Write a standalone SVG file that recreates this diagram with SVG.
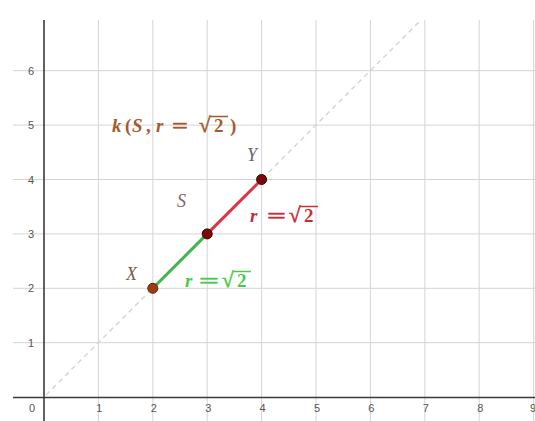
<svg xmlns="http://www.w3.org/2000/svg" width="535" height="421" viewBox="0 0 535 421">
<style>
.grid{stroke:#d4d4d4;stroke-width:1}
.axis{stroke:#3a3a3a;stroke-width:1.6}
.num{font-family:"Liberation Sans",Arial,sans-serif;font-size:11px;fill:#555;text-anchor:middle}
.math{font-family:"Liberation Serif","Times New Roman",serif;font-weight:bold;font-size:19px}
.it{font-style:italic}
.rad{font-size:21px;stroke-width:0.6}
.lbl{font-family:"Liberation Serif","Times New Roman",serif;font-style:italic;font-size:18px}
.pt{stroke-width:1}
</style>
<rect width="535" height="421" fill="#fff"/>
<g id="grid">
<line class="grid" x1="13" y1="342.7" x2="535" y2="342.7"/>
<line class="grid" x1="13" y1="288.3" x2="535" y2="288.3"/>
<line class="grid" x1="13" y1="233.9" x2="535" y2="233.9"/>
<line class="grid" x1="13" y1="179.5" x2="535" y2="179.5"/>
<line class="grid" x1="13" y1="125.1" x2="535" y2="125.1"/>
<line class="grid" x1="13" y1="70.7" x2="535" y2="70.7"/>
<line class="grid" x1="98.4" y1="20" x2="98.4" y2="421"/>
<line class="grid" x1="152.8" y1="20" x2="152.8" y2="421"/>
<line class="grid" x1="207.2" y1="20" x2="207.2" y2="421"/>
<line class="grid" x1="261.6" y1="20" x2="261.6" y2="421"/>
<line class="grid" x1="316" y1="20" x2="316" y2="421"/>
<line class="grid" x1="370.4" y1="20" x2="370.4" y2="421"/>
<line class="grid" x1="424.8" y1="20" x2="424.8" y2="421"/>
<line class="grid" x1="479.2" y1="20" x2="479.2" y2="421"/>
<line class="grid" x1="533.6" y1="20" x2="533.6" y2="421"/>
</g>
<g id="axes">
<line class="axis" x1="44" y1="20" x2="44" y2="421"/>
<line class="axis" x1="13" y1="397.5" x2="535" y2="397.5"/>
<text class="num" x="31" y="346.7">1</text>
<text class="num" x="31" y="292.3">2</text>
<text class="num" x="31" y="237.9">3</text>
<text class="num" x="31" y="183.5">4</text>
<text class="num" x="31" y="129.1">5</text>
<text class="num" x="31" y="74.7">6</text>
<text class="num" x="32" y="412">0</text>
<text class="num" x="99.4" y="412">1</text>
<text class="num" x="153.8" y="412">2</text>
<text class="num" x="208.2" y="412">3</text>
<text class="num" x="262.6" y="412">4</text>
<text class="num" x="317" y="412">5</text>
<text class="num" x="371.4" y="412">6</text>
<text class="num" x="425.8" y="412">7</text>
<text class="num" x="480.2" y="412">8</text>
<text class="num" x="533" y="412">9</text>
</g>
<g id="connectors">
<line x1="46" y1="395" x2="419" y2="22" stroke="#d6d6d6" stroke-width="1.5" stroke-dasharray="5,4"/>
<line x1="152.8" y1="288.3" x2="207.2" y2="233.9" stroke="#3cb84a" stroke-width="3"/>
<line x1="207.2" y1="233.9" x2="261.6" y2="179.5" stroke="#d23a48" stroke-width="3"/>
</g>
<g id="circle-label" fill="#a65a2c">
<text class="math" y="132"><tspan class="it" x="112">k</tspan><tspan x="125">(</tspan><tspan class="it" x="132">S</tspan><tspan x="146">,</tspan><tspan class="it" x="156">r</tspan></text>
<text class="math" x="172" y="132" textLength="16" lengthAdjust="spacingAndGlyphs" stroke="#a65a2c" stroke-width="0.5">=</text>
<text class="math" y="132"><tspan class="rad" x="199" stroke="#a65a2c">√</tspan><tspan x="214">2</tspan><tspan x="230">)</tspan></text>
<line x1="210" y1="116.5" x2="228" y2="116.5" stroke="#a65a2c" stroke-width="1.5"/>
</g>
<g id="node-X">
<circle class="pt" cx="152.8" cy="288.3" r="5" fill="#a03a10" stroke="#5a2008"/>
<text class="lbl" x="126" y="280" fill="#6e5e52">X</text>
</g>
<g id="node-S">
<circle class="pt" cx="207.2" cy="233.9" r="5" fill="#7a0a0a" stroke="#400000"/>
<text class="lbl" x="177" y="207" fill="#8a6262">S</text>
</g>
<g id="node-Y">
<circle class="pt" cx="261.6" cy="179.5" r="5" fill="#7a0a0a" stroke="#400000"/>
<text class="lbl" x="247" y="161" fill="#6a6280">Y</text>
</g>
<g id="label-red" fill="#c2303c">
<text class="math it" x="250" y="222">r</text>
<text class="math" x="267" y="222" textLength="19" lengthAdjust="spacingAndGlyphs" stroke="#c2303c" stroke-width="0.5">=</text>
<text class="math" y="222"><tspan class="rad" x="289" stroke="#c2303c">√</tspan><tspan x="304">2</tspan></text>
<line x1="300" y1="206.5" x2="318" y2="206.5" stroke="#c2303c" stroke-width="1.5"/>
</g>
<g id="label-green" fill="#48cc48">
<text class="math it" x="185" y="287">r</text>
<text class="math" x="199" y="287" textLength="20" lengthAdjust="spacingAndGlyphs" stroke="#48cc48" stroke-width="0.5">=</text>
<text class="math" y="287"><tspan class="rad" x="222" stroke="#48cc48">√</tspan><tspan x="237">2</tspan></text>
<line x1="233" y1="271.5" x2="251" y2="271.5" stroke="#48cc48" stroke-width="1.5"/>
</g>
</svg>
